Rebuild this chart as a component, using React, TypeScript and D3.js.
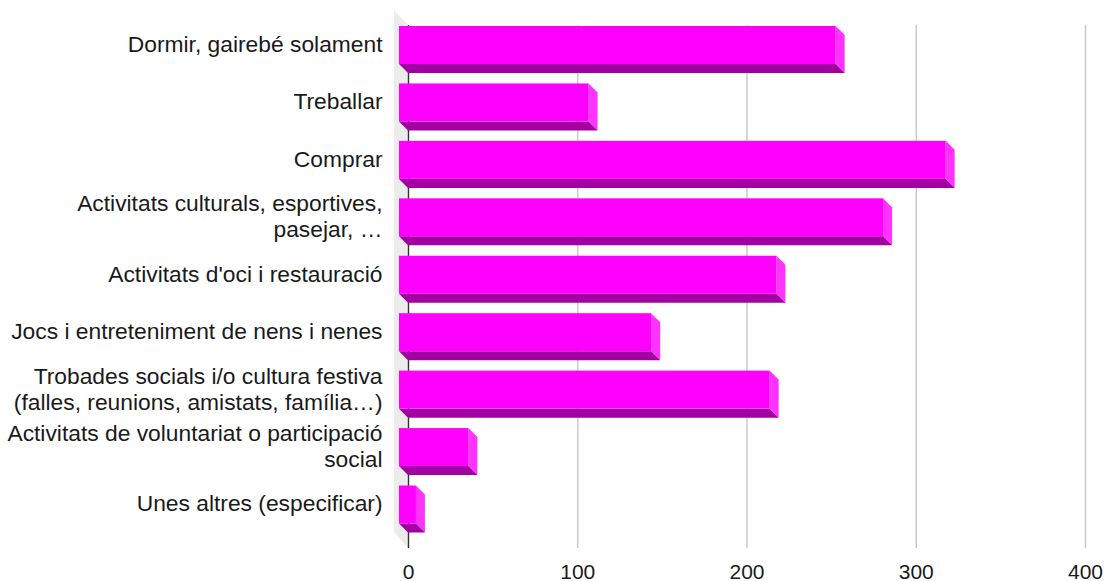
import { useEffect, useRef } from 'react'
import * as d3 from 'd3'

const categories = [
  'Dormir, gairebé solament',
  'Treballar',
  'Comprar',
  'Activitats culturals, esportives,\npasejar, …',
  "Activitats d'oci i restauració",
  'Jocs i entreteniment de nens i nenes',
  'Trobades socials i/o cultura festiva\n(falles, reunions, amistats, família…)',
  'Activitats de voluntariat o participació\nsocial',
  'Unes altres (especificar)',
]
const values = [258, 112, 323, 286, 223, 149, 219, 41, 10]
const ticks = [0, 100, 200, 300, 400]

const width = 1105
const height = 581
const depthX = 9
const depthY = 9
const font = '"Liberation Sans", Arial, sans-serif'

export default function App() {
  const svgRef = useRef<SVGSVGElement>(null)

  useEffect(() => {
    if (!svgRef.current) return
    const svg = d3.select(svgRef.current)
    svg.selectAll('*').remove()

    const x = d3.scaleLinear().domain([0, 400]).range([408, 1085])
    const y = d3.scaleBand<string>().domain(categories).range([26, 532.5]).paddingInner(0.1817)
    const top = 25
    const bottom = 548

    // back wall
    svg
      .append('path')
      .attr('fill', '#ececec')
      .attr('d', `M${x(0) - depthX - 5},${top - 15}L${x(0)},${top}L${x(0)},${bottom}L${x(0) - depthX - 5},${bottom - 16}Z`)

    const axis = d3.axisBottom(x).tickValues(ticks).tickSize(bottom - top).tickPadding(15.6).tickFormat(d => String(d))
    const axisG = svg.append('g').attr('transform', `translate(0,${top})`).call(axis)
    axisG.select('.domain').remove()
    axisG
      .selectAll<SVGLineElement, number>('.tick line')
      .attr('stroke', d => (d === 0 ? '#333333' : '#cccccc'))
      .attr('stroke-width', d => (d === 0 ? 1.4 : 1.6))
    axisG
      .selectAll('.tick text')
      .attr('fill', '#1a1a1a')
      .style('font-family', font)
      .style('font-size', '21px')

    const bar = svg
      .selectAll('g.bar')
      .data(categories)
      .join('g')
      .attr('class', 'bar')

    const front = y.bandwidth() - depthY
    const x0 = x(0) - depthX

    bar.each(function (d, i) {
      const g = d3.select(this)
      const t = y(d) as number
      const r = x(values[i]) - depthX
      const b = t + front
      // side face
      g.append('path')
        .attr('fill', '#ff33ff')
        .attr('d', `M${r},${t}L${r + depthX},${t + depthY}L${r + depthX},${b + depthY}L${r},${b}Z`)
      // bottom face
      g.append('path')
        .attr('fill', '#a300a3')
        .attr('d', `M${x0},${b}L${r},${b}L${r + depthX},${b + depthY}L${x0 + depthX},${b + depthY}Z`)
      g.append('rect')
        .attr('x', x0)
        .attr('y', t)
        .attr('width', r - x0)
        .attr('height', front)
        .attr('fill', '#ff00ff')

      const lines = d.split('\n')
      const label = g
        .append('text')
        .attr('text-anchor', 'end')
        .attr('fill', '#1a1a1a')
        .style('font-family', font)
        .style('font-size', '22.8px')
      lines.forEach((line, k) => {
        label
          .append('tspan')
          .attr('x', 382.5)
          .attr('y', t + front / 2 + 7 + (k - (lines.length - 1) / 2) * 26)
          .text(line)
      })
    })
  }, [])

  return <svg ref={svgRef} width={width} height={height} style={{ position: 'absolute', left: 0, top: 0 }} />
}
